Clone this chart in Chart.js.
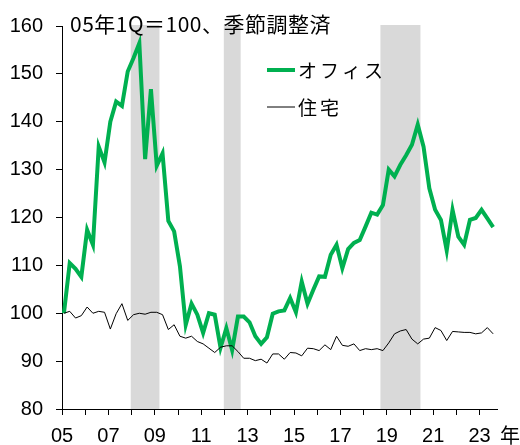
<!DOCTYPE html>
<html>
<head>
<meta charset="utf-8">
<script src="https://cdn.jsdelivr.net/npm/chart.js@4"></script>
<style>
  html, body { margin: 0; padding: 0; background: #fff; }
  #chart { display: block; }
</style>
</head>
<body>
<canvas id="chart" width="520" height="445"></canvas>
<script>
// quarterly index, 2005Q1 = 100, seasonally adjusted (75 quarters: 2005Q1 - 2023Q3)
const office = [
  100.0, 110.5, 109.3, 107.6, 117.4, 114.3, 134.8, 131.5, 140.0, 144.2,
  143.3, 150.5, 153.3, 156.4, 132.2, 146.8, 130.8, 133.4, 119.3, 117.1,
  109.8, 97.6, 102.0, 99.7, 95.9, 100.0, 99.7, 92.8, 96.9, 92.3,
  99.3, 99.3, 98.1, 95.2, 93.6, 95.0, 99.9, 100.4, 100.6, 103.2,
  100.2, 106.6, 102.0, 104.9, 107.7, 107.6, 112.2, 114.3, 109.4, 113.4,
  114.7, 115.3, 118.1, 121.0, 120.6, 122.6, 130.0, 128.6, 131.0, 133.0,
  135.2, 139.4, 134.8, 126.1, 121.6, 119.5, 113.1, 121.6, 116.0, 114.3,
  119.5, 119.9, 121.6, 119.8, 118.0,
]
const housing = [
  100.0, 100.4, 99.0, 99.5, 101.3, 100.0, 100.4, 100.2, 96.7, 99.9,
  102.0, 98.5, 99.7, 100.0, 99.8, 100.2, 100.2, 99.7, 96.6, 97.6,
  95.2, 94.8, 95.2, 94.1, 93.6, 92.7, 91.8, 92.9, 93.2, 93.2,
  92.0, 90.6, 90.6, 90.1, 90.4, 89.6, 91.5, 91.5, 90.4, 91.8,
  91.7, 91.1, 92.7, 92.6, 92.2, 93.4, 92.4, 95.2, 93.3, 93.1,
  93.6, 92.2, 92.6, 92.4, 92.6, 92.2, 93.8, 95.7, 96.3, 96.6,
  94.6, 93.6, 94.6, 94.8, 97.0, 96.4, 94.3, 96.2, 96.1, 96.0,
  96.0, 95.7, 95.9, 97.0, 95.7,
]

// shaded periods, in quarters counted from the start of 2005
const recessions = [[11.85, 16.8], [27.9, 30.8], [54.9, 61.8]]

const yearLabels = ['05', '07', '09', '11', '13', '15', '17', '19', '21', '23']
const seriesNames = ['オフィス', '住宅']
const titleText = '05年1Q＝100、季節調整済'

const GREEN = '#00B050'
const SHADE = '#D9D9D9'
const NUM_FONT = '"Liberation Sans", Arial, sans-serif'
const JP_FONT = '"Noto Sans CJK JP", sans-serif'

// each quarter is plotted at its middle month
const toPoints = arr => arr.map((v, i) => ({x: i + 1 / 3, y: v}))

const yearTicks = []
for (let q = 0; q <= 72; q += 4) yearTicks.push(q)

function spacedText(ctx, text, x, y, spacing) {
  for (const ch of text) {
    ctx.fillText(ch, x, y)
    x += ctx.measureText(ch).width + spacing
  }
}

const shading = {
  id: 'shading',
  beforeDraw(chart) {
    const {ctx, chartArea, scales} = chart
    ctx.save()
    ctx.fillStyle = SHADE
    for (const [a, b] of recessions) {
      const x0 = scales.x.getPixelForValue(a)
      const x1 = scales.x.getPixelForValue(b)
      ctx.fillRect(x0, chartArea.top - 1, x1 - x0, chartArea.bottom - chartArea.top + 1)
    }
    ctx.restore()
  },
}

const annotations = {
  id: 'annotations',
  afterDraw(chart) {
    const {ctx, chartArea} = chart
    ctx.save()
    ctx.fillStyle = '#000'
    ctx.textBaseline = 'middle'

    // unit note
    ctx.font = '21px ' + JP_FONT
    spacedText(ctx, titleText, chartArea.left + 8, 24, 0.5)

    // legend
    const lx = 267
    const rows = [{y: 70, color: GREEN, width: 4}, {y: 107, color: '#000', width: 1}]
    rows.forEach((r, i) => {
      ctx.strokeStyle = r.color
      ctx.lineWidth = r.width
      ctx.beginPath()
      ctx.moveTo(lx, r.y)
      ctx.lineTo(lx + 28, r.y)
      ctx.stroke()
      ctx.font = '19px ' + JP_FONT
      spacedText(ctx, seriesNames[i], lx + 31, r.y + 1, 3)
    })

    // year unit after the last tick label
    ctx.font = '20px ' + JP_FONT
    ctx.fillText('年', chartArea.right + 3, 435)
    ctx.restore()
  },
}

new Chart('chart', {
  type: 'line',
  data: {
    datasets: [
      {
        label: seriesNames[0],
        data: toPoints(office),
        borderColor: GREEN,
        borderWidth: 4,
        pointRadius: 0,
        tension: 0,
        order: 1,
      },
      {
        label: seriesNames[1],
        data: toPoints(housing),
        borderColor: '#000',
        borderWidth: 1,
        pointRadius: 0,
        tension: 0,
        order: 0,
      },
    ],
  },
  options: {
    responsive: false,
    animation: false,
    events: [],
    layout: {padding: {top: 26, right: 23, left: 0, bottom: 0}},
    plugins: {
      legend: {display: false},
      tooltip: {enabled: false},
    },
    scales: {
      x: {
        type: 'linear',
        min: 0,
        max: 75,
        afterBuildTicks: s => { s.ticks = yearTicks.map(v => ({value: v})) },
        afterFit: s => { s.height = 36 },
        grid: {drawOnChartArea: false, tickLength: 6, color: '#000'},
        border: {color: '#000'},
        ticks: {
          autoSkip: false,
          maxRotation: 0,
          padding: 9,
          color: '#000',
          font: {family: NUM_FONT, size: 20},
          callback: v => (v % 8 === 0 ? yearLabels[v / 8] : ''),
        },
      },
      y: {
        min: 80,
        max: 160,
        afterFit: s => { s.width = 62 },
        grid: {drawOnChartArea: false, tickLength: 6, color: '#000'},
        border: {color: '#000'},
        ticks: {
          stepSize: 10,
          padding: 13,
          color: '#000',
          font: {family: NUM_FONT, size: 20},
        },
      },
    },
  },
  plugins: [shading, annotations],
})
</script>
</body>
</html>
